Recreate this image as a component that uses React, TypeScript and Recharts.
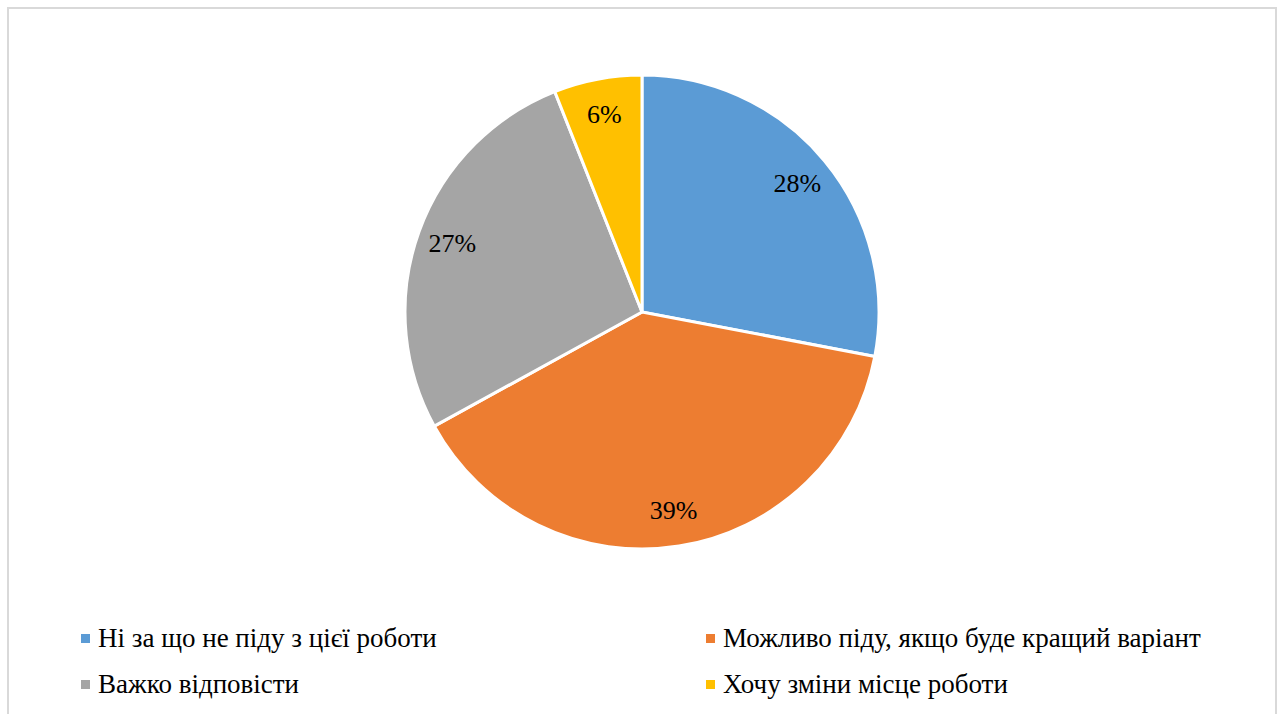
import { Cell, Pie, PieChart } from 'recharts';

const categories = [
  'Ні за що не піду з цієї роботи',
  'Можливо піду, якщо буде кращий варіант',
  'Важко відповісти',
  'Хочу зміни місце роботи',
];
const shares = [28, 39, 27, 6];
const colors = ['#5b9bd5', '#ed7d31', '#a5a5a5', '#ffc000'];

const data = categories.map((name, i) => ({ name, value: shares[i] }));

const FONT = "'Times New Roman', 'Liberation Serif', serif";
const RADIAN = Math.PI / 180;

// percent label placed inside each slice
const renderLabel = (props: any) => {
  const { cx, cy, midAngle, outerRadius, value } = props;
  const r = outerRadius * 0.85;
  const x = cx + r * Math.cos(-midAngle * RADIAN);
  const y = cy + r * Math.sin(-midAngle * RADIAN);
  return (
    <text
      x={x}
      y={y}
      fill="#000"
      textAnchor="middle"
      dominantBaseline="central"
      fontFamily={FONT}
      fontSize={26}
    >
      {`${value}%`}
    </text>
  );
};

export default function App() {
  return (
    <div style={{ position: 'absolute', left: 0, top: 0, width: 1279, height: 714, background: '#fff', fontFamily: FONT }}>
      <div
        style={{
          position: 'absolute',
          left: 7,
          top: 7,
          width: 1266,
          height: 720,
          border: '2px solid #d9d9d9',
        }}
      />
      <PieChart
        width={1279}
        height={600}
        margin={{ top: 0, right: 0, bottom: 0, left: 0 }}
        style={{ position: 'absolute', left: 0, top: 0 }}
      >
        <Pie
          data={data}
          dataKey="value"
          nameKey="name"
          cx={642}
          cy={312}
          outerRadius={237}
          startAngle={90}
          endAngle={-270}
          stroke="#fff"
          strokeWidth={3}
          label={renderLabel}
          labelLine={false}
          isAnimationActive={false}
        >
          {data.map((d, i) => (
            <Cell key={d.name} fill={colors[i]} />
          ))}
        </Pie>
      </PieChart>
      {/* legend, two columns under the pie */}
      <div
        style={{
          position: 'absolute',
          left: 81,
          top: 622,
          display: 'grid',
          gridTemplateColumns: '625px 560px',
          rowGap: 14,
          color: '#000',
          fontFamily: FONT,
          fontSize: 27,
        }}
      >
        {categories.map((name, i) => (
          <div key={name} style={{ display: 'flex', alignItems: 'center', height: 32 }}>
            <span style={{ width: 9, height: 9, background: colors[i], marginRight: 8, display: 'inline-block' }} />
            <span>{name}</span>
          </div>
        ))}
      </div>
    </div>
  );
}
